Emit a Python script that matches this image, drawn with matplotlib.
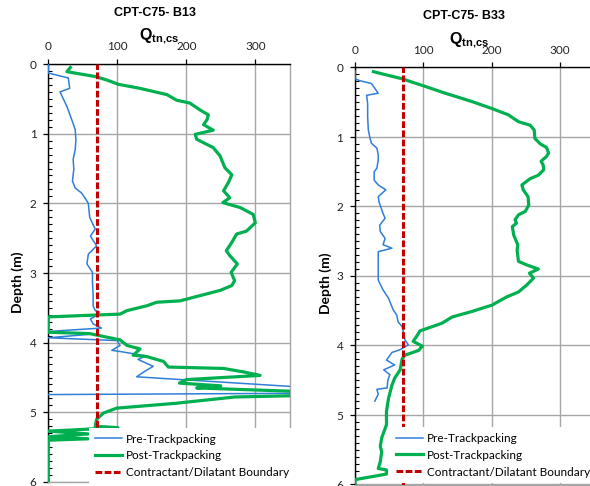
import matplotlib
matplotlib.use("Agg")
import matplotlib.pyplot as plt
from matplotlib.ticker import MultipleLocator

plt.rcParams['font.family'] = ['Lato', 'DejaVu Sans']
plt.rcParams['mathtext.fontset'] = 'custom'
plt.rcParams['mathtext.bf'] = 'Liberation Sans:bold'
plt.rcParams['mathtext.rm'] = 'Liberation Sans'

BLUE = "#2f7ed8"
GREEN = "#00b050"
RED = "#c00000"
GRID = "#a6a6a6"

boundary_q = 70

# CPT-C75- B13
b13_pre_depth = [0.0, 0.13, 0.2, 0.35, 0.4, 0.61, 0.8, 0.94, 1.09, 1.23, 1.37, 1.51, 1.59, 1.68,
                 1.78, 1.85, 1.92, 2.0, 2.2, 2.37, 2.47, 2.61, 2.73, 2.87, 2.99, 3.13, 3.32, 3.47,
                 3.54, 3.56, 3.61, 3.66, 3.73, 3.79, 3.84, 3.88, 3.93, 3.97, 4.04, 4.11, 4.13,
                 4.19, 4.24, 4.34, 4.41, 4.49, 4.72, 4.745]
b13_pre_q = [0, 0, 29, 31, 17, 27, 34, 39, 40, 39, 36, 37, 36, 35,
             39, 48, 53, 58, 60, 68, 61, 70, 58, 56, 64, 64, 65, 65,
             68, 74, 70, 61, 65, 77, 0, 60, 0, 100, 104, 92, 106,
             142, 130, 152, 140, 128, 500, 0]

b13_post_depth = [0.05, 0.11, 0.18, 0.23, 0.29, 0.35, 0.44, 0.52, 0.56, 0.66, 0.73, 0.8, 0.87,
                  0.95, 1.01, 1.08, 1.2, 1.32, 1.37, 1.49, 1.59, 1.7, 1.82, 1.92, 1.99, 2.06,
                  2.16, 2.28, 2.4, 2.44, 2.56, 2.68, 2.75, 2.87, 2.99, 3.11, 3.18, 3.25, 3.35,
                  3.4, 3.42, 3.47, 3.54, 3.59, 3.63, 3.85, 3.87, 3.96, 4.04, 4.09, 4.18, 4.2,
                  4.27, 4.35, 4.37, 4.42, 4.47, 4.53, 4.58, 4.62, 4.65, 4.7, 4.76, 4.78, 4.87,
                  4.94, 5.01, 5.1, 5.2, 5.22, 5.27, 5.31, 5.35, 5.38, 5.4, 6.0]
b13_post_q = [32, 27, 68, 85, 101, 133, 172, 186, 205, 220, 232, 230, 225,
              239, 213, 215, 239, 249, 251, 256, 266, 261, 254, 263, 253, 278,
              297, 300, 287, 273, 266, 258, 263, 274, 265, 270, 266, 249, 210,
              191, 157, 143, 114, 104, 0, 0, 60, 104, 114, 133, 123, 143,
              167, 174, 254, 283, 307, 200, 190, 250, 215, 360, 360, 270, 185,
              99, 80, 70, 68, 101, 0, 58, 0, 58, 0, 0]

# CPT-C75- B33
b33_pre_depth = [0.05, 0.16, 0.19, 0.23, 0.3, 0.37, 0.4, 0.52, 0.71, 0.9, 1.02, 1.09, 1.16, 1.26,
                 1.33, 1.45, 1.5, 1.62, 1.69, 1.76, 1.86, 1.93, 2.1, 2.17, 2.27, 2.36, 2.46,
                 2.55, 2.6, 2.65, 2.79, 2.96, 3.06, 3.2, 3.32, 3.49, 3.56, 3.66, 3.73, 3.82,
                 3.92, 3.99, 4.06, 4.1, 4.21, 4.28, 4.35, 4.42, 4.5, 4.61, 4.63, 4.7, 4.8]
b33_pre_q = [0, 0, 7, 24, 29, 34, 17, 18.5, 18.5, 19.5, 22, 24, 32, 34,
             34, 32, 28, 28, 34, 45, 34, 35, 41, 44, 36, 37, 44,
             41, 54, 34, 34, 34, 34, 41, 49, 56, 61, 63, 69, 71,
             73, 78, 66, 54, 46, 58, 42, 51, 48, 47, 32, 34, 29]

b33_post_depth = [0.06, 0.09, 0.16, 0.27, 0.37, 0.49, 0.59, 0.68, 0.78, 0.83, 0.9, 1.02, 1.1,
                  1.15, 1.23, 1.28, 1.35, 1.4, 1.47, 1.55, 1.6, 1.69, 1.76, 1.86, 1.98, 2.07,
                  2.12, 2.19, 2.24, 2.29, 2.41, 2.55, 2.63, 2.79, 2.84, 2.9, 2.96, 3.03, 3.13,
                  3.23, 3.3, 3.42, 3.51, 3.59, 3.68, 3.79, 3.87, 3.94, 4.01, 4.07, 4.14, 4.19,
                  4.35, 4.47, 4.57, 4.76, 4.95, 5.14, 5.33, 5.45, 5.53, 5.67, 5.77, 5.79, 5.85,
                  5.93, 6.0]
b33_post_q = [27, 39, 68, 102, 132, 171, 200, 224, 239, 256, 262, 263, 271,
              280, 283, 280, 272, 275, 276, 268, 256, 244, 246, 253, 254, 249,
              239, 234, 236, 230, 232, 238, 237, 239, 251, 268, 255, 261, 251,
              239, 222, 200, 171, 142, 127, 95, 90, 85, 98.5, 93, 73, 69,
              66, 58, 54, 49, 46, 46, 39, 37, 39, 37, 34, 46, 46,
              0, 0]

panels = [
    ("CPT-C75- B13", b13_pre_depth, b13_pre_q, b13_post_depth, b13_post_q),
    ("CPT-C75- B33", b33_pre_depth, b33_pre_q, b33_post_depth, b33_post_q),
]

W, H = 590, 486
fig = plt.figure(figsize=(W / 100, H / 100), dpi=100)

# pixel layout of each panel: left, top, right, bottom
boxes = [(48.3, 64, 289.8, 482), (355, 67.5, 594.4, 484.5)]
title_pos = [(155, 16), (464, 19)]
qlabel_pos = [(159, 39.5), (469, 43.5)]
ylabel_pos = [(18, 282), (326, 283)]
legend_anchor = [(59, 5.22), (51, 5.17)]

for i, (name, pre_d, pre_q, post_d, post_q) in enumerate(panels):
    l, t, r, b = boxes[i]
    ax = fig.add_axes([l / W, 1 - b / H, (r - l) / W, (b - t) / H])

    ax.plot(pre_q, pre_d, color=BLUE, lw=1.1, label="Pre-Trackpacking", zorder=3)
    ax.plot(post_q, post_d, color=GREEN, lw=2.3, label="Post-Trackpacking", zorder=3)
    ax.axvline(boundary_q, color=RED, lw=2.2, ls=(0, (2.2, 0.8)),
               label="Contractant/Dilatant Boundary", zorder=4)

    ax.set_xlim(0, 350)
    ax.set_ylim(6, 0)
    ax.xaxis.tick_top()
    ax.set_xticks([0, 100, 200, 300])
    ax.set_yticks(range(7))
    ax.yaxis.set_minor_locator(MultipleLocator(0.1))
    ax.grid(True, color=GRID, lw=1)
    ax.set_axisbelow(True)

    ax.tick_params(axis='both', which='major', direction='out', length=3.5, width=0.9,
                   labelsize=8.5, labelcolor='#222222', pad=5)
    ax.tick_params(axis='y', which='minor', direction='in', length=3, width=0.8)
    ax.tick_params(axis='x', which='both', top=True, bottom=False)

    for side in ("top", "left"):
        ax.spines[side].set_color("black")
        ax.spines[side].set_linewidth(1.0)
    for side in ("right", "bottom"):
        ax.spines[side].set_color(GRID)
        ax.spines[side].set_linewidth(1.0)

    leg = ax.legend(loc="upper left", bbox_to_anchor=legend_anchor[i],
                    bbox_transform=ax.transData, borderaxespad=0,
                    frameon=True, fancybox=False, fontsize=8.5,
                    facecolor="white", edgecolor="none", framealpha=1,
                    handlelength=2.3, handletextpad=0.35, labelspacing=0.5,
                    borderpad=0.5)
    leg.set_zorder(10)

    tx, ty = title_pos[i]
    fig.text(tx / W, 1 - ty / H, name, ha="center", va="baseline",
             fontsize=9, fontweight="bold", family="Liberation Sans")
    qx, qy = qlabel_pos[i]
    fig.text(qx / W, 1 - qy / H, r"$\mathbf{Q}_{\mathbf{tn{,}cs}}$", ha="center",
             va="baseline", fontsize=11.5)
    yx, yy = ylabel_pos[i]
    fig.text(yx / W, 1 - yy / H, "Depth (m)", rotation=90, ha="center", va="center",
             fontsize=10, fontweight="bold")

fig.savefig("out.png", dpi=100)
